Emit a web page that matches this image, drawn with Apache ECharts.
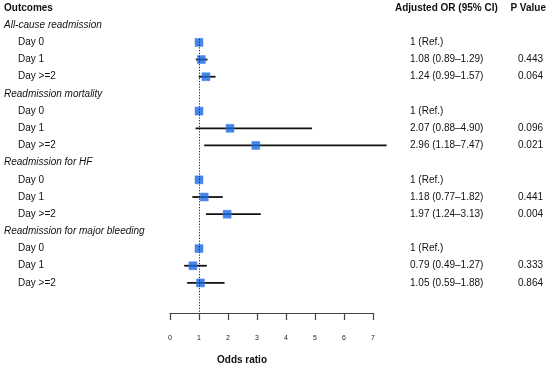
<!DOCTYPE html>
<html><head><meta charset="utf-8">
<script src="https://cdn.jsdelivr.net/npm/echarts@6/dist/echarts.min.js"></script>
<style>html,body{margin:0;padding:0;background:#fff}#c{width:550px;height:370px}</style>
</head><body><div id="c"></div>
<script>
const groups = ['All-cause readmission','Readmission mortality','Readmission for HF','Readmission for major bleeding'];
const levels = ['Day 0','Day 1','Day >=2'];
const orVals = [[1,1.08,1.24],[1,2.07,2.96],[1,1.18,1.97],[1,0.79,1.05]];
const loVals = [[1,0.89,0.99],[1,0.88,1.18],[1,0.77,1.24],[1,0.49,0.59]];
const hiVals = [[1,1.29,1.57],[1,4.90,7.47],[1,1.82,3.13],[1,1.27,1.88]];
const orText = [['1 (Ref.)','1.08 (0.89\u20131.29)','1.24 (0.99\u20131.57)'],
                ['1 (Ref.)','2.07 (0.88\u20134.90)','2.96 (1.18\u20137.47)'],
                ['1 (Ref.)','1.18 (0.77\u20131.82)','1.97 (1.24\u20133.13)'],
                ['1 (Ref.)','0.79 (0.49\u20131.27)','1.05 (0.59\u20131.88)']];
const pText = [['','0.443','0.064'],['','0.096','0.021'],['','0.441','0.004'],['','0.333','0.864']];
const xTicks = [0,1,2,3,4,5,6,7];
const headers = ['Outcomes','Adjusted OR (95% CI)','P Value'];
const axisTitle = 'Odds ratio';

// build rows: row 0 = header
const textRows = []; // [row, kind, label, or, p]
const pointRows = []; // [or, row, lo, hi]
let r = 1;
groups.forEach((g, gi) => {
  textRows.push([r, 'group', g, '', '']);
  r++;
  levels.forEach((l, li) => {
    textRows.push([r, 'item', l, orText[gi][li], pText[gi][li]]);
    pointRows.push([orVals[gi][li], r, loVals[gi][li], hiVals[gi][li]]);
    r++;
  });
});
textRows.unshift([0, 'header', headers[0], headers[1], headers[2]]);

const FONT = 'Liberation Sans, Arial, sans-serif';
const chart = echarts.init(document.getElementById('c'));
chart.setOption({
  animation: false,
  grid: {left: 170, right: 177, top: 8, bottom: 57},
  xAxis: {
    type: 'value', min: 0, max: 7, interval: 1, position: 'bottom',
    splitLine: {show: false},
    axisLine: {show: true, onZero: false, lineStyle: {color: '#444', width: 1.2}},
    axisTick: {show: true, length: 7, lineStyle: {color: '#444', width: 1.2}},
    axisLabel: {fontSize: 7, color: '#222', margin: 22, fontFamily: FONT,
      formatter: v => xTicks.includes(v) ? String(v) : ''}
  },
  yAxis: {type: 'value', inverse: true, min: 0, max: 17.75, show: false},
  graphic: [{type: 'text', left: 217, top: 355,
    style: {text: axisTitle, font: 'bold 10px ' + FONT, fill: '#111'}}],
  series: [
    {
      type: 'custom', z: 2, clip: false,
      data: pointRows,
      renderItem: (params, api) => {
        const y = api.coord([0, api.value(1)])[1];
        const x1 = api.coord([api.value(2), 0])[0];
        const x2 = api.coord([api.value(3), 0])[0];
        return {type: 'line', shape: {x1, y1: y, x2, y2: y},
          style: {stroke: '#111', lineWidth: 1.8}};
      }
    },
    {
      type: 'scatter', z: 3, symbol: 'rect', symbolSize: 8,
      data: pointRows.map(d => [d[0], d[1]]),
      itemStyle: {color: '#1a68e0', borderColor: '#3b82f0', borderWidth: 0.6}
    },
    {
      type: 'line', z: 4, data: [], silent: true,
      markLine: {
        symbol: 'none', silent: true, label: {show: false},
        lineStyle: {color: '#222', type: [1.2, 1.6], width: 1},
        data: [[{coord: [1, 1.8]}, {coord: [1, 17.75]}]]
      }
    },
    {
      type: 'custom', z: 5, clip: false,
      data: textRows,
      renderItem: (params, api) => {
        const d = textRows[params.dataIndex];
        const y = api.coord([0, d[0]])[1];
        const kids = [];
        if (d[1] === 'header') {
          kids.push({type: 'text', style: {x: 4, y, text: d[2], font: 'bold 10px ' + FONT, fill: '#111', verticalAlign: 'middle'}});
          kids.push({type: 'text', style: {x: 395, y, text: d[3], font: 'bold 10px ' + FONT, fill: '#111', verticalAlign: 'middle'}});
          kids.push({type: 'text', style: {x: 546, y, text: d[4], font: 'bold 10px ' + FONT, fill: '#111', verticalAlign: 'middle', align: 'right'}});
        } else if (d[1] === 'group') {
          kids.push({type: 'text', style: {x: 4, y, text: d[2], font: 'italic 10px ' + FONT, fill: '#111', verticalAlign: 'middle'}});
        } else {
          kids.push({type: 'text', style: {x: 18, y, text: d[2], font: '10px ' + FONT, fill: '#111', verticalAlign: 'middle'}});
          kids.push({type: 'text', style: {x: 410, y, text: d[3], font: '10px ' + FONT, fill: '#111', verticalAlign: 'middle'}});
          kids.push({type: 'text', style: {x: 543, y, text: d[4], font: '10px ' + FONT, fill: '#111', verticalAlign: 'middle', align: 'right'}});
        }
        return {type: 'group', children: kids};
      }
    }
  ]
});
</script></body></html>
